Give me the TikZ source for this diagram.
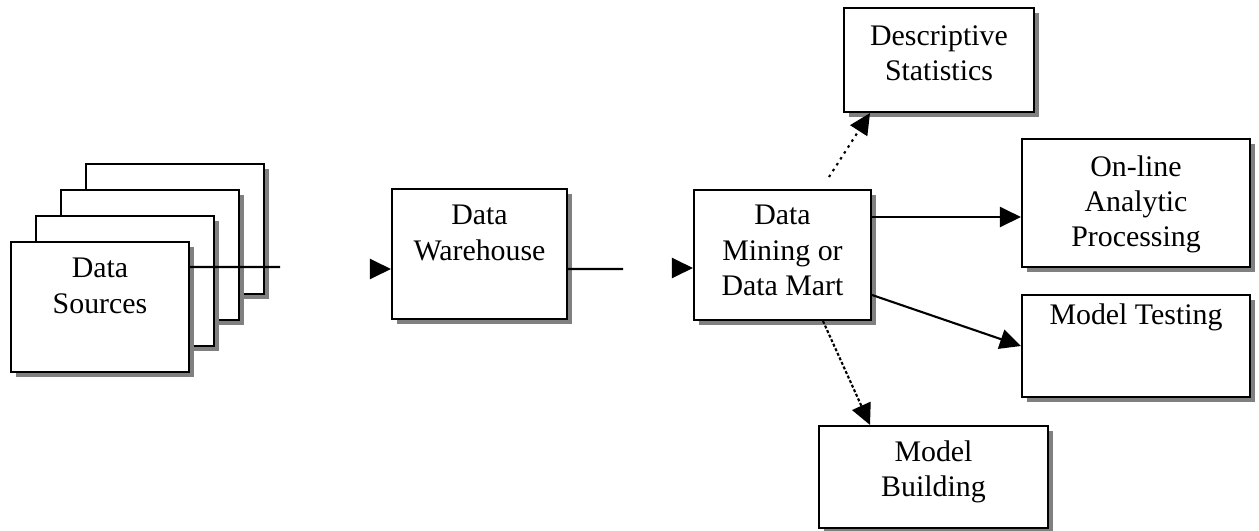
\documentclass[tikz,border=0pt]{standalone}
\usepackage{fontspec}
\setmainfont{Liberation Serif}
\usetikzlibrary{arrows.meta, positioning, shadows}

\begin{document}
\begin{tikzpicture}[x=0.02cm, y=-0.02cm,
            font=\fontsize{17}{20}\selectfont,
            flow box/.style={draw, fill=white, line width=1.2pt, inner sep=0pt,
                drop shadow={shadow xshift=0.1cm, shadow yshift=-0.1cm, fill=black!50, opacity=1}},
            box text/.style={align=center, inner sep=0pt},
            link/.style={line width=1.2pt},
            flow/.style={link, -{Triangle[length=0.42cm, width=0.4cm]}}]

            % Page
            \fill[white] (0,0) rectangle (1259,531);

            % Data sources, stacked back to front
            \node[flow box, minimum width=3.56cm, minimum height=2.6cm] (src4) at (175,229) {};
            \node[flow box, minimum width=3.56cm, minimum height=2.6cm] (src3) at (150,255) {};
            \node[flow box, minimum width=3.56cm, minimum height=2.6cm] (src2) at (125,281) {};
            \node[flow box, minimum width=3.56cm, minimum height=2.6cm] (src1) at (100,307) {};
            \node[box text, below=0.34cm of src1.north] (srctext) {Data\\Sources};

            % Warehouse and mart
            \node[flow box, minimum width=3.5cm, minimum height=2.6cm] (wh) at (479.5,254) {};
            \node[box text, below=0.34cm of wh.north] (whtext) {Data\\Warehouse};
            \node[flow box, minimum width=3.54cm, minimum height=2.6cm] (dm) at (782.5,255) {};
            \node[box text, below=0.32cm of dm.north] (dmtext) {Data\\Mining or\\Data Mart};

            % Uses
            \node[flow box, minimum width=3.8cm, minimum height=2.08cm] (desc) at (939,60) {};
            \node[box text, below=0.36cm of desc.north] (desctext) {Descriptive\\Statistics};
            \node[flow box, minimum width=4.56cm, minimum height=2.56cm] (olap) at (1136,203) {};
            \node[box text, below=0.34cm of olap.north] (olaptext) {On-line\\Analytic\\Processing};
            \node[flow box, minimum width=4.56cm, minimum height=2.04cm] (test) at (1136,346) {};
            \node[box text, below=0.18cm of test.north] (testtext) {Model Testing};
            \node[flow box, minimum width=4.58cm, minimum height=2.04cm] (build) at (933.5,477) {};
            \node[box text, below=0.3cm of build.north] (buildtext) {Model\\Building};

            % Loose ends of the broken links
            \coordinate (srcend) at (280,267);
            \coordinate (whtip) at (371,269);
            \coordinate (whend) at (623,269);
            \coordinate (dmtip) at (673,268);
            \coordinate (descfoot) at (829,177);

            % Links
            \draw[link] ([yshift=0.8cm]src1.east) -- (srcend);
            \draw[flow] (whtip) -- ([yshift=-0.3cm]wh.west);
            \draw[link] ([yshift=-0.3cm]wh.east) -- (whend);
            \draw[flow] (dmtip) -- ([yshift=-0.26cm]dm.west);
            \draw[flow, dash pattern=on 0.05cm off 0.09cm] (descfoot) -- ([xshift=-1.38cm]desc.south);
            \draw[flow] ([yshift=0.76cm]dm.east) -- ([yshift=0.76cm]dm.east -| olap.west);
            \draw[flow] ([yshift=-0.8cm]dm.east) -- (test.west);
            \draw[flow, dash pattern=on 0.06cm off 0.04cm] ([xshift=0.81cm]dm.south) -- ([xshift=-1.27cm]build.north);
        \end{tikzpicture}
\end{document}
